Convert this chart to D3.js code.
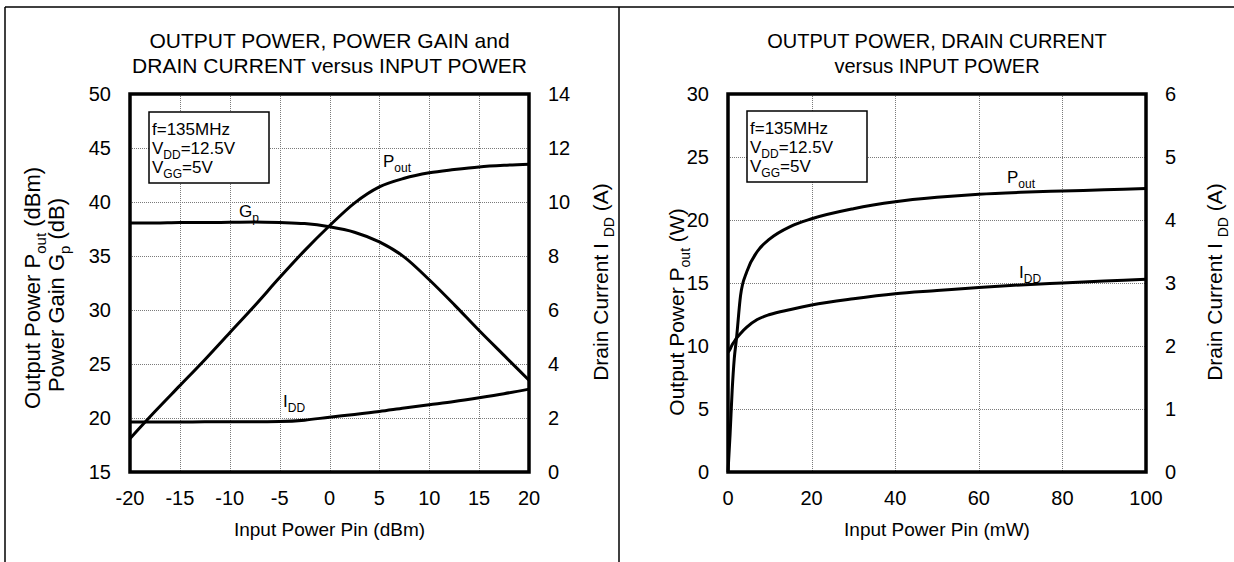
<!DOCTYPE html>
<meta charset="utf-8">
<style>
    body { margin: 0; background: #fff; }
    text { font-family: "Liberation Sans", Arial, sans-serif; fill: #000; }
    .grid line { stroke: #7a7a7a; stroke-width: 1; stroke-dasharray: 1,1; shape-rendering: crispEdges; }
    .frame { fill: none; stroke: #000; stroke-width: 3.5; }
    .curve { fill: none; stroke: #000; stroke-width: 3; }
    .tick { font-size: 20px; }
    .border { stroke: #000; stroke-width: 1.5; }
</style>

<svg width="1234" height="562"></svg>

<script src="https://d3js.org/d3.v7.min.js"></script>

<script>
// ---- left panel: dBm sweep ----
var pinDbm = [-20, -17.5, -15, -12.5, -10, -7.5, -5, -2.5, 0, 2.5, 5, 7.5, 10, 12.5, 15, 17.5, 20];
var poutDbm = [18.1, 20.6, 23.0, 25.4, 27.9, 30.4, 33.0, 35.5, 37.8, 39.9, 41.4, 42.2, 42.7, 43.0, 43.25, 43.4, 43.5];
var gainDb = [38.05, 38.05, 38.1, 38.1, 38.12, 38.15, 38.1, 38.0, 37.7, 37.2, 36.3, 34.9, 32.8, 30.5, 28.1, 25.8, 23.5];
var iddLeft = [1.85, 1.85, 1.85, 1.86, 1.86, 1.86, 1.87, 1.92, 2.03, 2.13, 2.24, 2.37, 2.49, 2.61, 2.75, 2.9, 3.07];
var xTicksLeft = [-20, -15, -10, -5, 0, 5, 10, 15, 20];
var yTicksLeft = [15, 20, 25, 30, 35, 40, 45, 50];
var y2TicksLeft = [0, 2, 4, 6, 8, 10, 12, 14];

// ---- right panel: mW sweep ----
var pinMw = [0, 0.5, 1, 1.5, 2, 3, 4.5, 7, 10, 15, 20, 30, 40, 50, 60, 70, 80, 90, 100];
var poutW = [0, 3.0, 6.5, 9.0, 10.5, 14.0, 15.9, 17.5, 18.5, 19.5, 20.1, 20.9, 21.45, 21.8, 22.05, 22.2, 22.3, 22.4, 22.5];
var iddRight = [1.9, 1.95, 2.02, 2.07, 2.12, 2.2, 2.3, 2.42, 2.5, 2.58, 2.65, 2.75, 2.83, 2.88, 2.93, 2.97, 3.0, 3.03, 3.06];
var xTicksRight = [0, 20, 40, 60, 80, 100];
var yTicksRight = [0, 5, 10, 15, 20, 25, 30];
var y2TicksRight = [0, 1, 2, 3, 4, 5, 6];

var svg = d3.select("svg");

// outer frame and divider
svg.append("line").attr("class", "border").attr("x1", 5).attr("x2", 1234).attr("y1", 7).attr("y2", 7);
svg.append("line").attr("class", "border").attr("x1", 5).attr("x2", 5).attr("y1", 7).attr("y2", 562);
svg.append("line").attr("class", "border").attr("x1", 619).attr("x2", 619).attr("y1", 7).attr("y2", 562);

// text with subscripts: parts = [[str, isSub], ...]
function rich(sel, parts, size) {
    var subSize = Math.round(size * 0.68), shift = Math.round(size * 0.28);
    parts.forEach(function(p, i) {
        var t = sel.append("tspan").text(p[0]);
        if (p[1]) t.attr("font-size", subSize).attr("dy", shift);
        else if (i > 0 && parts[i - 1][1]) t.attr("dy", -shift);
    });
    return sel;
}

function label(g, x, y, parts, size, anchor, rotate) {
    var t = g.append("text")
        .attr("font-size", size)
        .attr("text-anchor", anchor || "start");
    if (rotate) t.attr("transform", "translate(" + x + "," + y + ") rotate(-90)");
    else t.attr("x", x).attr("y", y);
    return rich(t, parts, size);
}

function panel(o) {
    var x = d3.scaleLinear().domain(o.xDomain).range([o.left, o.right]);
    var y = d3.scaleLinear().domain(o.yDomain).range([o.bottom, o.top]);
    var y2 = d3.scaleLinear().domain(o.y2Domain).range([o.bottom, o.top]);
    var g = svg.append("g");

    var grid = g.append("g").attr("class", "grid");
    grid.selectAll(".v").data(o.xTicks.slice(1, -1)).enter().append("line")
        .attr("x1", function(d) { return Math.round(x(d)) + 0.5; })
        .attr("x2", function(d) { return Math.round(x(d)) + 0.5; })
        .attr("y1", o.top).attr("y2", o.bottom);
    grid.selectAll(".h").data(o.yTicks.slice(1, -1)).enter().append("line")
        .attr("y1", function(d) { return Math.round(y(d)) + 0.5; })
        .attr("y2", function(d) { return Math.round(y(d)) + 0.5; })
        .attr("x1", o.left).attr("x2", o.right);

    // tick labels
    g.selectAll(".xl").data(o.xTicks).enter().append("text").attr("class", "tick")
        .attr("x", function(d) { return x(d); }).attr("y", 505)
        .attr("text-anchor", "middle").text(function(d) { return d; });
    g.selectAll(".yl").data(o.yTicks).enter().append("text").attr("class", "tick")
        .attr("x", o.left - 19).attr("y", function(d) { return y(d); }).attr("dy", "0.36em")
        .attr("text-anchor", "end").text(function(d) { return d; });
    g.selectAll(".y2l").data(o.y2Ticks).enter().append("text").attr("class", "tick")
        .attr("x", o.right + 19).attr("y", function(d) { return y2(d); }).attr("dy", "0.36em")
        .attr("text-anchor", "start").text(function(d) { return d; });

    // curves
    var cx = (o.left + o.right) / 2;
    o.series.forEach(function(s) {
        var sc = s.axis === 2 ? y2 : y;
        var line = d3.line()
            .x(function(d, i) { return x(o.xs[i]); })
            .y(function(d) { return sc(d); })
            .curve(d3.curveMonotoneX);
        g.append("path").attr("class", "curve").attr("d", line(s.values));
        label(g, s.lx, s.ly, s.name, 17, "start");
    });

    // info box
    var box = g.append("g");
    box.append("rect").attr("x", o.box[0]).attr("y", o.box[1]).attr("width", 120).attr("height", 71)
        .attr("fill", "#fff").attr("stroke", "#000").attr("stroke-width", 1.5);
    label(box, o.box[0] + 3, o.box[1] + 23, [["f=135MHz"]], 17);
    label(box, o.box[0] + 3, o.box[1] + 42, [["V"], ["DD", 1], ["=12.5V"]], 17);
    label(box, o.box[0] + 3, o.box[1] + 61, [["V"], ["GG", 1], ["=5V"]], 17);

    g.append("rect").attr("class", "frame")
        .attr("x", o.left).attr("y", o.top)
        .attr("width", o.right - o.left).attr("height", o.bottom - o.top);

    // titles
    o.title.forEach(function(t, i) {
        g.append("text").attr("x", cx).attr("y", 48 + i * 25).attr("font-size", o.titleSize)
            .attr("text-anchor", "middle").text(t);
    });
    g.append("text").attr("x", cx).attr("y", 536).attr("font-size", 19)
        .attr("text-anchor", "middle").text(o.xTitle);
    o.yTitle.forEach(function(t) {
        label(g, t.x, t.y, t.parts, t.size, "middle", true);
    });
}

panel({
    left: 130, right: 529, top: 94, bottom: 472,
    xDomain: [-20, 20], yDomain: [15, 50], y2Domain: [0, 14],
    xTicks: xTicksLeft, yTicks: yTicksLeft, y2Ticks: y2TicksLeft,
    xs: pinDbm,
    series: [
        { values: poutDbm, axis: 1, name: [["P"], ["out", 1]], lx: 383, ly: 167 },
        { values: gainDb, axis: 1, name: [["G"], ["p", 1]], lx: 239, ly: 217 },
        { values: iddLeft, axis: 2, name: [["I"], ["DD", 1]], lx: 283, ly: 407 }
    ],
    box: [149, 112],
    titleSize: 21,
    title: ["OUTPUT POWER, POWER GAIN and", "DRAIN CURRENT versus INPUT POWER"],
    xTitle: "Input Power Pin (dBm)",
    yTitle: [
        { x: 40, y: 288, size: 22, parts: [["Output Power P"], ["out", 1], [" (dBm)"]] },
        { x: 64, y: 295, size: 22, parts: [["Power Gain G"], ["p", 1], [" (dB)"]] },
        { x: 608, y: 282, size: 21, parts: [["Drain Current I "], ["DD", 1], [" (A)"]] }
    ]
});

panel({
    left: 728, right: 1146, top: 94, bottom: 472,
    xDomain: [0, 100], yDomain: [0, 30], y2Domain: [0, 6],
    xTicks: xTicksRight, yTicks: yTicksRight, y2Ticks: y2TicksRight,
    xs: pinMw,
    series: [
        { values: poutW, axis: 1, name: [["P"], ["out", 1]], lx: 1007, ly: 183 },
        { values: iddRight, axis: 2, name: [["I"], ["DD", 1]], lx: 1019, ly: 278 }
    ],
    box: [747, 111],
    titleSize: 20,
    title: ["OUTPUT POWER,  DRAIN CURRENT", "versus INPUT POWER"],
    xTitle: "Input Power Pin (mW)",
    yTitle: [
        { x: 684, y: 312, size: 21, parts: [["Output Power P"], ["out", 1], [" (W)"]] },
        { x: 1222, y: 282, size: 21, parts: [["Drain Current I "], ["DD", 1], [" (A)"]] }
    ]
});
</script>
